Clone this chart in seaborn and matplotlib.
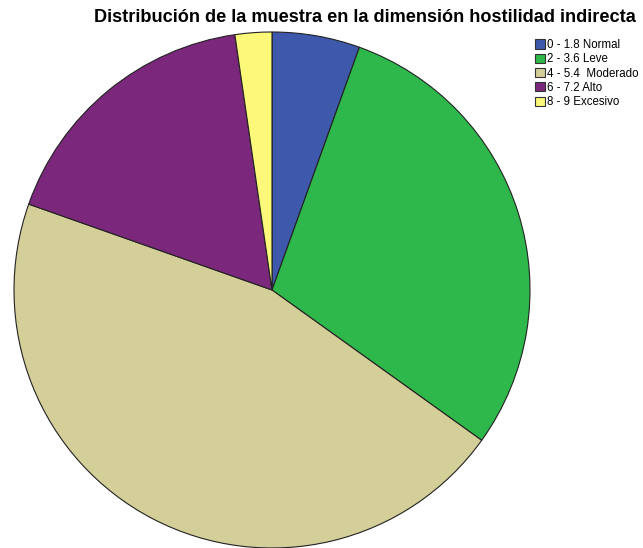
import seaborn as sns
import matplotlib.pyplot as plt
from matplotlib.patches import Patch

# Datos (porcentaje de la muestra por categoría)
categorias = ['0 - 1.8 Normal', '2 - 3.6 Leve', '4 - 5.4  Moderado', '6 - 7.2 Alto', '8 - 9 Excesivo']
porcentajes = [5.5, 29.4, 45.5, 17.3, 2.3]
colores = ['#3e58ac', '#2eb84b', '#d4ce99', '#7b287c', '#fbf87a']

sns.set_style("white")
plt.rcParams['font.family'] = ['Liberation Sans', 'DejaVu Sans']
plt.rcParams['text.color'] = 'black'

fig = plt.figure(figsize=(6.43, 5.48), dpi=100)
ax = fig.add_axes([14 / 643, 0.0, 516 / 643, 516 / 548])

wedges, _ = ax.pie(porcentajes, colors=sns.color_palette(colores), startangle=90,
                   counterclock=False,
                   wedgeprops=dict(edgecolor='#222222', linewidth=0.8))
for w in wedges:
    w.set_clip_on(False)
ax.set_xlim(-1, 1)
ax.set_ylim(-1, 1)
ax.set_aspect('equal')
ax.axis('off')

fig.text(0.568, 0.968, 'Distribución de la muestra en la dimensión hostilidad indirecta',
         ha='center', va='center', fontsize=13.1, fontweight='bold', color='black')

handles = [Patch(facecolor=c, edgecolor='#333333', linewidth=0.8) for c in colores]
leg = fig.legend(handles, categorias, loc='upper left', bbox_to_anchor=(535 / 643, 0.929),
                 frameon=False, fontsize=8.3, handlelength=0.85, handleheight=0.85,
                 handletextpad=0.2, labelspacing=0.2, borderaxespad=0, borderpad=0)
for t in leg.get_texts():
    t.set_color('black')

fig.savefig('out.png', dpi=100)
